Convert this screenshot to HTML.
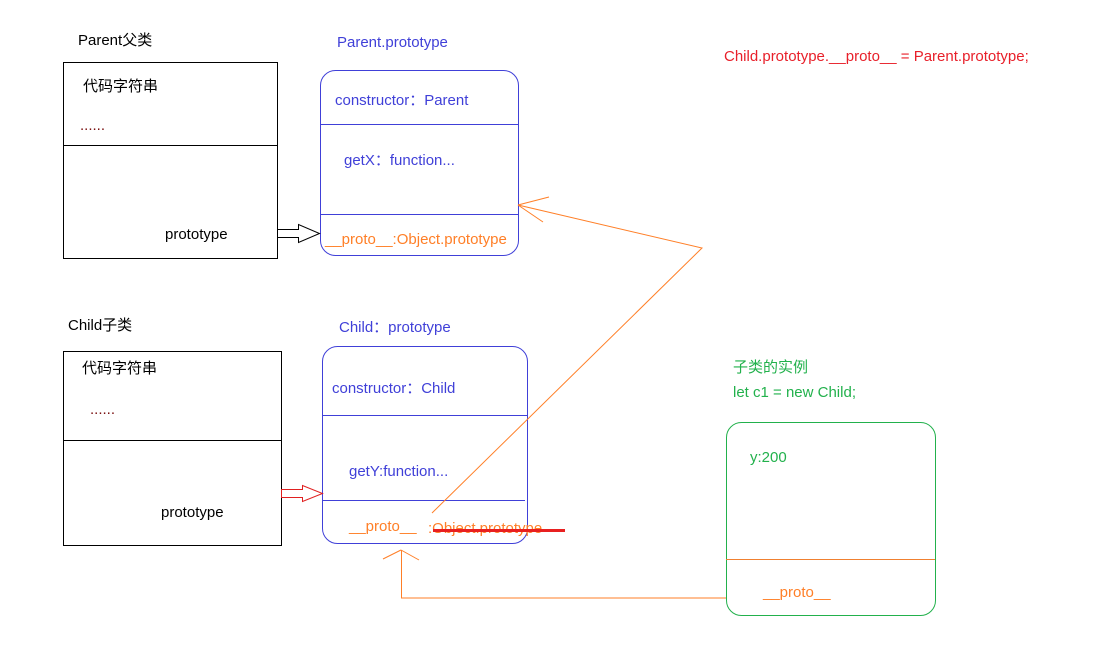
<!DOCTYPE html>
<html><head><meta charset="utf-8"><style>
html,body{margin:0;padding:0;background:#fff;}
svg{display:block;}
text{font-family:"Liberation Sans","Noto Sans CJK SC",sans-serif;font-size:15px;}
</style></head><body>
<svg width="1100" height="653" viewBox="0 0 1100 653" xmlns="http://www.w3.org/2000/svg">
<g fill="none" stroke-width="1">
<!-- Parent box -->
<rect x="63.5" y="62.5" width="214" height="196" stroke="#000"/>
<line x1="63" y1="145.5" x2="277" y2="145.5" stroke="#000"/>
<!-- Parent.prototype box -->
<rect x="320.5" y="70.5" width="198" height="185" rx="15" stroke="#4040d8"/>
<line x1="320" y1="124.5" x2="518" y2="124.5" stroke="#4040d8"/>
<line x1="320" y1="214.5" x2="518" y2="214.5" stroke="#4040d8"/>
<!-- black hollow arrow -->
<path d="M277.5 229.5 H298.5 V224.5 L319.5 233.5 L298.5 242.5 V237.5 H277.5 Z" stroke="#000"/>
<!-- Child box -->
<rect x="63.5" y="351.5" width="218" height="194" stroke="#000"/>
<line x1="63" y1="440.5" x2="281" y2="440.5" stroke="#000"/>
<!-- Child prototype box -->
<rect x="322.5" y="346.5" width="205" height="197" rx="15" stroke="#4040d8"/>
<line x1="322" y1="415.5" x2="527" y2="415.5" stroke="#4040d8"/>
<line x1="322" y1="500.5" x2="525" y2="500.5" stroke="#4040d8"/>
<!-- red hollow arrow -->
<path d="M281.5 489.5 H302.5 V485.5 L322.5 493.5 L302.5 501.5 V497.5 H281.5 Z" stroke="#e02020"/>
<!-- green box -->
<rect x="726.5" y="422.5" width="209" height="193" rx="15" stroke="#22b14c"/>
<line x1="726" y1="559.5" x2="935" y2="559.5" stroke="#f08030"/>
<!-- orange connectors -->
<polyline points="432,513 702,248 518,205" stroke="#ff7f27"/>
<line x1="518" y1="205" x2="549" y2="197" stroke="#ff7f27"/>
<line x1="518" y1="205" x2="543" y2="222" stroke="#ff7f27"/>
<polyline points="726,598 401.5,598 401.5,550" stroke="#ff7f27"/>
<line x1="401" y1="550" x2="383" y2="559" stroke="#ff7f27"/>
<line x1="401" y1="550" x2="419" y2="560" stroke="#ff7f27"/>
</g>
<!-- texts -->
<text x="78" y="45" fill="#000">Parent父类</text>
<text x="83" y="91" fill="#000">代码字符串</text>
<text x="80" y="130" fill="#7a1010">......</text>
<text x="165" y="239" fill="#000">prototype</text>
<text x="337" y="47" fill="#4040d8">Parent.prototype</text>
<text x="335" y="105" fill="#4040d8">constructor：Parent</text>
<text x="344" y="165" fill="#4040d8">getX：function...</text>
<text x="325" y="244" fill="#ff7f27">__proto__:Object.prototype</text>

<text x="68" y="330" fill="#000">Child子类</text>
<text x="82" y="373" fill="#000">代码字符串</text>
<text x="90" y="414" fill="#7a1010">......</text>
<text x="161" y="517" fill="#000">prototype</text>
<text x="339" y="332" fill="#4040d8">Child：prototype</text>
<text x="332" y="393" fill="#4040d8">constructor：Child</text>
<text x="349" y="476" fill="#4040d8">getY:function...</text>
<text x="349" y="531" fill="#ff7f27">__proto__</text>
<text x="428" y="533" fill="#ff7f27">:Object.prototype</text>
<line x1="433" y1="530.5" x2="565" y2="530.5" stroke="#e82020" stroke-width="3"/>

<text x="724" y="61" fill="#e8202a">Child.prototype.__proto__ = Parent.prototype;</text>
<text x="733" y="372" fill="#22b14c">子类的实例</text>
<text x="733" y="397" fill="#22b14c">let c1 = new Child;</text>
<text x="750" y="462" fill="#22b14c">y:200</text>
<text x="763" y="597" fill="#ff7f27">__proto__</text>
</svg>
</body></html>
